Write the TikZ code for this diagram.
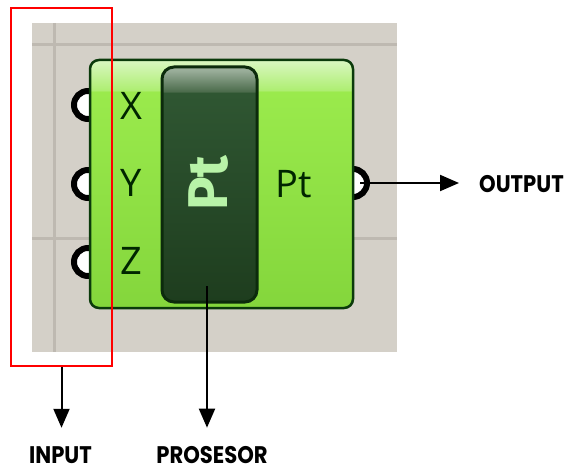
\documentclass[tikz,border=0pt]{standalone}
\usepackage{fontspec}
\usepackage{graphicx}
\setmainfont{Open Sans}
\newfontfamily\labfont{Poppins}
\newfontfamily\iconfont{Fira Sans}
\usetikzlibrary{arrows.meta}
\definecolor{canvas}{HTML}{D4D0C8}
\definecolor{gridc}{HTML}{BEB9B1}
\definecolor{gborder}{HTML}{0B3A0B}
\definecolor{gmain}{HTML}{9AEA4C}
\definecolor{gbot}{HTML}{84D63C}
\definecolor{hltop}{HTML}{DAF7C2}
\definecolor{hlbot}{HTML}{AEEE72}
\definecolor{pborder}{HTML}{0C2B0C}
\definecolor{ptop}{HTML}{2F5632}
\definecolor{pbot}{HTML}{1E3D1E}
\definecolor{pbA}{HTML}{9AAE9A}
\definecolor{pbB}{HTML}{4C6C4C}
\definecolor{icontext}{HTML}{B8F3A8}
\pgfdeclareverticalshading{compshade}{100bp}{color(0bp)=(gbot); color(25bp)=(gbot); color(68.6bp)=(gmain); color(68.9bp)=(hlbot); color(75bp)=(hltop); color(100bp)=(hltop)}
\pgfdeclareverticalshading{procshade}{100bp}{color(0bp)=(pbot); color(25bp)=(pbot); color(69.5bp)=(ptop); color(69.8bp)=(pbB); color(74.3bp)=(pbA); color(100bp)=(pbA)}
\newcommand{\captxt}[1]{\scalebox{0.88}[1]{#1}}
\tikzset{
  bgbox/.style={fill=canvas, draw=none, minimum width=365pt, minimum height=329pt, inner sep=0pt},
  gridline/.style={draw=gridc, line width=3pt},
  port/.style={circle, draw=black, fill=white, line width=6pt, minimum size=28pt, inner sep=0pt},
  comp/.style={rounded corners=9pt, draw=gborder, line width=2.5pt, shade, shading=compshade, minimum width=263pt, minimum height=248pt, inner sep=0pt},
  proc/.style={rounded corners=12pt, draw=pborder, line width=3pt, shade, shading=procshade, minimum width=95pt, minimum height=235pt, inner sep=0pt},
  icon/.style={rotate=90, text=icontext, font=\iconfont\bfseries\fontsize{56}{56}\selectfont, inner sep=0pt},
  plabel/.style={text=black!85!green, font=\fontsize{38}{38}\selectfont, inner sep=0pt},
  redbox/.style={draw=red, line width=2pt, minimum width=101pt, minimum height=358pt, inner sep=0pt},
  caption/.style={font=\labfont\bfseries\fontsize{24}{24}\selectfont, inner sep=0pt, text=black},
  arr/.style={-{Triangle[length=19pt,width=16pt]}, line width=2pt, black}
}
\begin{document}
\begin{tikzpicture}[x=1pt,y=-1pt]
\useasboundingbox (0,0) rectangle (565,468);
% canvas
\node[bgbox] (canvas) at (214.5,187.5) {};
\draw[gridline] (canvas.west |- 0,45) -- (canvas.east |- 0,45);
\draw[gridline] (canvas.west |- 0,238) -- (canvas.east |- 0,238);
\draw[gridline] (canvas.north -| 54,0) -- (canvas.south -| 54,0);
% ports
\node[port] (portX) at (88,105) {};
\node[port] (portY) at (88,184) {};
\node[port] (portZ) at (88,262) {};
\node[port] (portOut) at (353,183) {};
% component
\node[comp] (comp) at (221.5,184) {};
\node[proc] (proc) at (209.5,184.5) {};
\node[icon] (icon) at (209,183) {Pt};
\node[plabel] (lx) at (131,106) {X};
\node[plabel] (ly) at (131,183) {Y};
\node[plabel] (lz) at (131,261) {Z};
\node[plabel] (lpt) at (294,184) {Pt};
% input highlight
\node[redbox] (inbox) at (61.5,187) {};
% captions
\node[caption] (inlab) at (60.5,455.5) {\captxt{INPUT}};
\node[caption] (prolab) at (212,455.5) {\captxt{PROSESOR}};
\node[caption] (outlab) at (521.5,184) {\captxt{OUTPUT}};
\coordinate (procpt) at (207,286);
% arrows
\draw[arr, shorten >=19pt] (inbox.south) -- (inbox.south |- inlab.north);
\draw[arr, shorten >=19pt] (procpt) -- (procpt |- prolab.north);
\draw[arr, shorten <=7pt, shorten >=20pt] (portOut.center) -- (portOut.center -| outlab.west);
\end{tikzpicture}
\end{document}
